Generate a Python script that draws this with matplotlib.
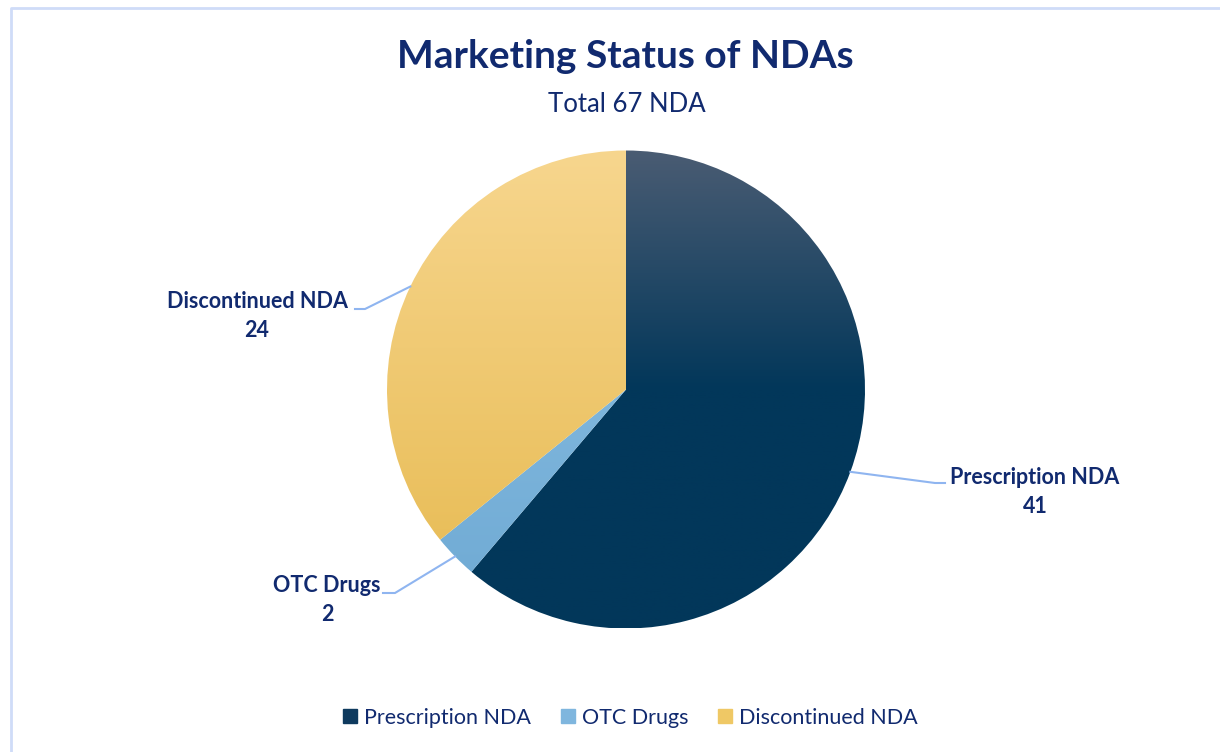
import numpy as np
import matplotlib
matplotlib.use("Agg")
import matplotlib.pyplot as plt
from matplotlib.colors import LinearSegmentedColormap
from matplotlib.lines import Line2D

categories = ["Prescription NDA", "OTC Drugs", "Discontinued NDA"]
values = [41, 2, 24]
title = "Marketing Status of NDAs"
subtitle = "Total 67 NDA"

top_colors = ["#4a5c73", "#8fc3e6", "#f7d68e"]
bot_colors = ["#02375a", "#6ea9d3", "#e6b94f"]
legend_colors = ["#0e3a5e", "#7fb6de", "#efc865"]
# label centres (figure pixel coords) and elbow points
label_pos = [(1035, 492), (327, 600), (257, 316)]
elbow_pos = [(935, 483), (395, 593), (365, 309)]
elbow_end = [(945, 483), (383, 593), (355, 309)]
text_color = "#112a6f"
leader_color = "#8fb5f0"

plt.rcParams['font.family'] = ['Lato', 'DejaVu Sans']

W, H = 1220, 752
fig = plt.figure(figsize=(W / 100, H / 100), dpi=100)
ax = fig.add_axes([0, 0, 1, 1])
ax.set_xlim(0, W)
ax.set_ylim(H, 0)
ax.axis('off')

# chart frame
ax.plot([10.5, 10.5, W + 5], [H + 5, 7.5, 7.5], color="#cfdcf8", lw=2, solid_capstyle='butt')

pax = fig.add_axes([0, 0, 1, 1])
cx, cy, r = 626, H - 389.5, 239
wedges, _ = pax.pie(values, startangle=90, counterclock=False, center=(cx, cy),
                    radius=r, frame=True)
pax.set_aspect('equal')
pax.axis('off')
grad = np.linspace(0, 1, 256).reshape(-1, 1)
for i, (w, tc, bc) in enumerate(zip(wedges, top_colors, bot_colors)):
    w.set_facecolor('none')
    w.set_edgecolor('none')
    if i == 0:
        cmap = LinearSegmentedColormap.from_list('g', [(0, bc), (0.5, bc), (1, tc)])
    else:
        cmap = LinearSegmentedColormap.from_list('g', [bc, tc])
    im = pax.imshow(grad, cmap=cmap, extent=(cx - r, cx + r, cy - r, cy + r),
                    aspect='auto', origin='lower', zorder=1)
    im.set_clip_path(w)

pax.set_xlim(0, W)
pax.set_ylim(0, H)

for w, ep, ee in zip(wedges, elbow_pos, elbow_end):
    ang = np.deg2rad((w.theta1 + w.theta2) / 2)
    sx, sy = cx + r * np.cos(ang), cy + r * np.sin(ang)
    pax.plot([sx, ep[0], ee[0]], [sy, H - ep[1], H - ee[1]], color=leader_color, lw=1.5, zorder=3)

for cat, v, lp in zip(categories, values, label_pos):
    ax.text(lp[0], lp[1], f"{cat}\n{v}", ha='center', va='center', fontsize=15.5,
            fontweight='bold', color=text_color, linespacing=1.45)

ax.text(625, 56, title, ha='center', va='center', fontsize=28, fontweight='bold', color=text_color)
ax.text(627, 104, subtitle, ha='center', va='center', fontsize=18.5, color=text_color)

handles = [Line2D([], [], marker='s', ls='none', markersize=10, markerfacecolor=c,
                  markeredgecolor=c) for c in legend_colors]
fig.legend(handles, categories, loc='center', bbox_to_anchor=(629 / W, 1 - 718 / H),
           ncol=3, frameon=False, fontsize=15.5, labelcolor=text_color,
           handletextpad=0.2, columnspacing=1.25, handlelength=0.9)

fig.savefig("out.png", dpi=100, facecolor='white')
